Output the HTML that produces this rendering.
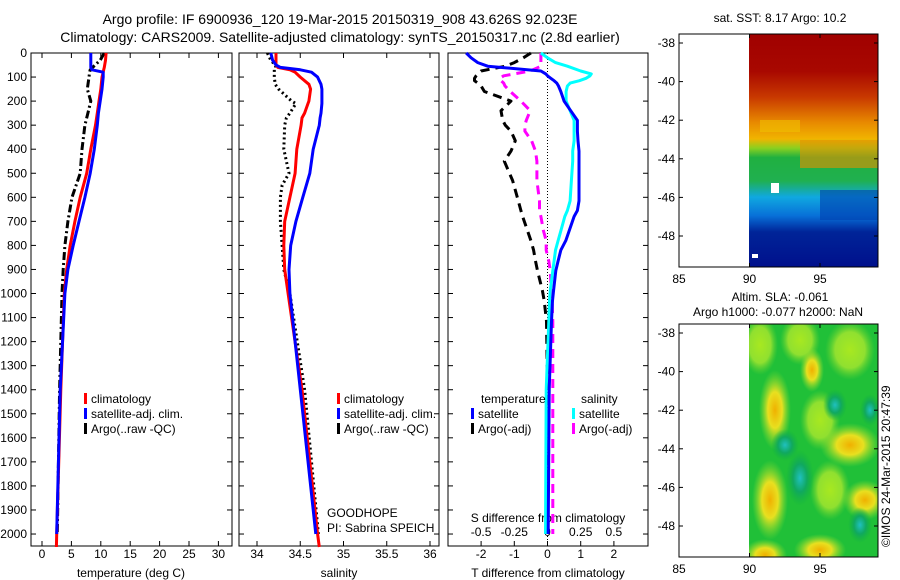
<!DOCTYPE html>
<html><head><meta charset="utf-8"><style>
body{margin:0;background:#fff;}
svg{display:block;font-family:"Liberation Sans",sans-serif;}
</style></head><body>
<svg id="fig" width="900" height="580" viewBox="0 0 900 580">
<defs>
<linearGradient id="sstg" x1="0" y1="0" x2="0" y2="1">
<stop offset="0" stop-color="#a00000"/><stop offset="0.16" stop-color="#a80800"/>
<stop offset="0.27" stop-color="#c83800"/><stop offset="0.38" stop-color="#e88a00"/>
<stop offset="0.45" stop-color="#f0b400"/><stop offset="0.49" stop-color="#8ad020"/>
<stop offset="0.53" stop-color="#20b040"/><stop offset="0.63" stop-color="#20b050"/>
<stop offset="0.70" stop-color="#10a8e0"/><stop offset="0.78" stop-color="#0870d8"/>
<stop offset="0.85" stop-color="#002498"/><stop offset="1" stop-color="#00108c"/>
</linearGradient>
<radialGradient id="yb"><stop offset="0" stop-color="#f0b000"/><stop offset="0.45" stop-color="#e8e020"/><stop offset="1" stop-color="#90e030" stop-opacity="0"/></radialGradient>
<radialGradient id="lg"><stop offset="0" stop-color="#a8e820"/><stop offset="0.6" stop-color="#90e030"/><stop offset="1" stop-color="#60d030" stop-opacity="0"/></radialGradient>
<radialGradient id="gb"><stop offset="0" stop-color="#20c0c0"/><stop offset="0.5" stop-color="#10a860"/><stop offset="1" stop-color="#10b040" stop-opacity="0"/></radialGradient>
</defs>
<g id="titles" font-size="14">
<text x="340" y="24" text-anchor="middle">Argo profile: IF 6900936_120 19-Mar-2015 20150319_908 43.626S 92.023E</text>
<text x="340" y="42" text-anchor="middle">Climatology: CARS2009. Satellite-adjusted climatology: synTS_20150317.nc (2.8d earlier)</text>
</g>
<g id="p1"></g><g id="p2"></g><g id="p3"></g>
<g id="maps">
<text x="780" y="22" text-anchor="middle" font-size="12">sat. SST: 8.17 Argo: 10.2</text>
<rect x="749" y="34" width="129" height="233" fill="url(#sstg)"/>
<g opacity="0.6">
<rect x="800" y="140" width="78" height="28" fill="#e89000"/>
<rect x="760" y="120" width="40" height="12" fill="#f0c000"/>
<rect x="820" y="190" width="58" height="30" fill="#0040b0"/>
</g>
<rect x="771" y="183" width="8" height="10" fill="#fff"/>
<rect x="752" y="254" width="6" height="4" fill="#fff"/>
<rect x="679" y="34" width="199" height="233" fill="none" stroke="#000"/>
<text x="780" y="301" text-anchor="middle" font-size="12">Altim. SLA: -0.061</text>
<text x="778" y="316" text-anchor="middle" font-size="12">Argo h1000: -0.077 h2000: NaN</text>
<svg x="749" y="324" width="129" height="233" viewBox="749 324 129 233">
<rect x="749" y="324" width="129" height="233" fill="#20c038"/>
<ellipse cx="760" cy="345" rx="18" ry="30" fill="url(#lg)"/>
<ellipse cx="800" cy="340" rx="20" ry="25" fill="url(#lg)"/>
<ellipse cx="850" cy="350" rx="25" ry="30" fill="url(#lg)"/>
<ellipse cx="775" cy="410" rx="16" ry="40" fill="url(#yb)"/>
<ellipse cx="820" cy="420" rx="20" ry="30" fill="url(#lg)"/>
<ellipse cx="850" cy="445" rx="30" ry="22" fill="url(#yb)"/>
<ellipse cx="770" cy="500" rx="18" ry="40" fill="url(#yb)"/>
<ellipse cx="830" cy="490" rx="20" ry="30" fill="url(#lg)"/>
<ellipse cx="865" cy="500" rx="22" ry="20" fill="url(#yb)"/>
<ellipse cx="765" cy="555" rx="22" ry="16" fill="url(#yb)"/>
<ellipse cx="820" cy="550" rx="26" ry="16" fill="url(#yb)"/>
<ellipse cx="812" cy="370" rx="12" ry="22" fill="url(#yb)"/>
<ellipse cx="800" cy="478" rx="14" ry="28" fill="url(#gb)"/>
<ellipse cx="785" cy="445" rx="14" ry="16" fill="url(#gb)"/>
<ellipse cx="835" cy="405" rx="12" ry="16" fill="url(#gb)"/>
<ellipse cx="870" cy="410" rx="10" ry="16" fill="url(#gb)"/>
<ellipse cx="860" cy="525" rx="12" ry="18" fill="url(#gb)"/>
</svg>
<rect x="679" y="324" width="199" height="233" fill="none" stroke="#000"/>
<text transform="translate(890,547) rotate(-90)" font-size="12">©IMOS 24-Mar-2015 20:47:39</text>
</g>
</svg>
<script>
const NS='http://www.w3.org/2000/svg';
function mk(p,tag,at){const e=document.createElementNS(NS,tag);for(const k in at)e.setAttribute(k,at[k]);p.appendChild(e);return e;}
const depthTicks=[0,100,200,300,400,500,600,700,800,900,1000,1100,1200,1300,1400,1500,1600,1700,1800,1900,2000];
function yD(d){return 53+d*0.2463*0.9765;}
// panel 1: temperature
const tDepth=[0,30,60,70,80,100,150,200,250,300,400,500,600,700,800,900,1000,1400,2000,2054];
const tClim=[10.9,10.8,10.6,10.5,10.4,10.2,10.0,9.7,9.4,9.1,8.3,7.6,6.5,5.6,4.8,4.2,3.8,3.2,2.5,2.45];
const tSat=[8.3,8.3,8.3,8.5,10.4,10.4,10.2,9.9,9.6,9.4,8.9,8.2,7.3,6.3,5.3,4.4,3.9,3.1,2.5];
const tArgo=[10.6,9.9,8.6,8.2,8.1,8.0,7.7,8.3,7.8,7.3,6.8,6.5,5.1,4.4,3.9,3.6,3.4,3.0,2.6];
const tTicks=[0,5,10,15,20,25,30];
// panel 2: salinity
const sDepth=[0,30,50,60,70,80,100,130,150,200,210,250,270,300,400,500,550,600,700,800,900,1000,1400,2000,2054];
const sClim=[34.22,34.22,34.22,34.24,34.38,34.44,34.50,34.60,34.62,34.60,34.59,34.55,34.52,34.51,34.46,34.44,34.41,34.38,34.32,34.31,34.32,34.36,34.52,34.70,34.72];
const sSat=[34.16,34.18,34.22,34.27,34.50,34.63,34.70,34.74,34.75,34.75,34.75,34.74,34.73,34.72,34.65,34.61,34.57,34.53,34.45,34.39,34.37,34.38,34.50,34.68];
const sArgo=[34.12,34.16,34.21,34.22,34.20,34.20,34.20,34.21,34.25,34.40,34.45,34.38,34.34,34.32,34.31,34.37,34.29,34.27,34.27,34.29,34.31,34.38,34.55,34.71];
const sTicks=[34,34.5,35,35.5,36];
// panel 3: differences
const dDepth=[0,20,40,55,75,87,95,105,115,125,137,160,200,240,280,300,325,365,408,450,530,615,655,680,740,780,820,865,905,990,1030,1115,1400,2000];
const dTsat=[-2.45,-2.3,-2.1,-1.8,-0.2,-0.05,0,0.1,0.2,0.28,0.33,0.4,0.5,0.7,0.9,0.9,0.9,0.92,0.95,0.95,0.95,0.95,0.9,0.8,0.65,0.55,0.4,0.32,0.25,0.18,0.15,0.12,0.05,0.02];
const dSsat=[-0.05,0.0,0.06,0.15,0.25,0.33,0.32,0.29,0.24,0.17,0.15,0.14,0.14,0.17,0.20,0.20,0.20,0.20,0.19,0.19,0.18,0.17,0.15,0.13,0.10,0.08,0.06,0.05,0.04,0.02,0.015,0.01,-0.01,-0.015];
const dTargo=[-0.5,-0.73,-1.0,-1.27,-2.0,-2.1,-2.15,-2.2,-2.2,-2.1,-2.0,-1.9,-1.1,-1.4,-1.35,-1.27,-1.1,-0.97,-1.1,-1.3,-1.05,-0.88,-0.8,-0.75,-0.6,-0.5,-0.42,-0.36,-0.3,-0.15,-0.1,-0.03,0.0,0.0];
const dSargo=[-0.05,-0.05,-0.05,-0.05,-0.13,-0.25,-0.33,-0.36,-0.35,-0.33,-0.32,-0.28,-0.2,-0.13,-0.16,-0.17,-0.17,-0.12,-0.09,-0.08,-0.08,-0.06,-0.06,-0.05,-0.03,-0.01,-0.01,0.01,0.02,0.03,0.035,0.04,0.04,0.04];
const dTTicks=[-2,-1,0,1,2];
const dSTicks=[-0.5,-0.25,0,0.25,0.5];
const dSLabels=['-0.5','-0.25','0','0.25','0.5'];

function frame(g,x0,x1,name,labels){
  const r=mk(g,'rect',{x:x0,y:53,width:x1-x0,height:493,fill:'none',stroke:'#000'});
  
  
  depthTicks.forEach(d=>{
    const y=yD(d);
    mk(g,'line',{x1:x0,x2:x0+5,y1:y,y2:y,stroke:'#000'});
    mk(g,'line',{x1:x1,x2:x1-5,y1:y,y2:y,stroke:'#000'});
    if(labels){const t=mk(g,'text',{x:x0-4,y:y+4,'text-anchor':'end','font-size':12});t.textContent=d;
      
      }
  });
}
function xticks(g,ticks,fx,labs,ylab,inside){
  ticks.forEach((v,i)=>{
    const x=fx(v);
    mk(g,'line',{x1:x,x2:x,y1:546,y2:541,stroke:'#000'});
    if(!inside) mk(g,'line',{x1:x,x2:x,y1:53,y2:58,stroke:'#000'});
    const t=mk(g,'text',{x:x,y:ylab,'text-anchor':'middle','font-size':12});t.textContent=labs?labs[i]:v;
    
    
  });
}
function line(g,vals,depths,fx,style,name){
  const pts=vals.map((v,i)=>fx(v).toFixed(1)+','+yD(depths[i]).toFixed(1)).join(' ');
  const p=mk(g,'polyline',Object.assign({points:pts,fill:'none','stroke-linejoin':'round'},style));
  
  
}
function txt(g,x,y,s,name,anchor){const t=mk(g,'text',{x:x,y:y,'font-size':12,'text-anchor':anchor||'start'});t.textContent=s;
  
  return t;}
function leg(g,x,y,color,s,name){mk(g,'rect',{x:x,y:y-10,width:3,height:11,fill:color});txt(g,x+7,y,s,name);}

const g1=document.getElementById('p1');
const fT=v=>42+v*5.88;
frame(g1,31,232,'temperature-axes',true);
xticks(g1,tTicks,fT,null,558,false);
txt(g1,131,577,'temperature (deg C)','x-axis-title-temperature','middle');
line(g1,tArgo,tDepth,fT,{stroke:'#000','stroke-width':3,'stroke-dasharray':'8 3 2 3'},'argo-temperature-line');
line(g1,tClim,tDepth,fT,{stroke:'#f00','stroke-width':3},'climatology-temperature-line');
line(g1,tSat,tDepth,fT,{stroke:'#00f','stroke-width':3},'satellite-temperature-line');
leg(g1,84,403,'#f00','climatology','legend-climatology');
leg(g1,84,418,'#00f','satellite-adj. clim.','legend-satellite');
leg(g1,84,433,'#000','Argo(..raw -QC)','legend-argo');

const g2=document.getElementById('p2');
const fS=v=>257+(v-34)*86.5;
frame(g2,239,439,'salinity-axes',false);
xticks(g2,sTicks,fS,null,558,false);
txt(g2,339,577,'salinity','x-axis-title-salinity','middle');
line(g2,sArgo,sDepth,fS,{stroke:'#000','stroke-width':3,'stroke-dasharray':'2 3'},'argo-salinity-line');
line(g2,sClim,sDepth,fS,{stroke:'#f00','stroke-width':3},'climatology-salinity-line');
line(g2,sSat,sDepth,fS,{stroke:'#00f','stroke-width':3},'satellite-salinity-line');
leg(g2,337,403,'#f00','climatology','legend-climatology-s');
leg(g2,337,418,'#00f','satellite-adj. clim.','legend-satellite-s');
leg(g2,337,433,'#000','Argo(..raw -QC)','legend-argo-s');
txt(g2,327,517,'GOODHOPE','project-label');
txt(g2,327,532,'PI: Sabrina SPEICH','pi-label');

const g3=document.getElementById('p3');
const fDT=v=>547.5+v*33.2;
const fDS=v=>547.5+v*132.8;
frame(g3,448,648,'difference-axes',false);
mk(g3,'line',{x1:fDT(0),x2:fDT(0),y1:53,y2:546,stroke:'#000','stroke-dasharray':'1 2'});
xticks(g3,dTTicks,fDT,null,558,true);
dSTicks.forEach((v,i)=>{txt(g3,fDS(v),536,dSLabels[i],'s-tick-label','middle');});
txt(g3,548,522,'S difference from climatology','s-axis-title','middle');
txt(g3,548,577,'T difference from climatology','t-axis-title','middle');
line(g3,dTargo,dDepth,fDT,{stroke:'#000','stroke-width':3,'stroke-dasharray':'9 6'},'argo-temp-diff-line');
line(g3,dSargo,dDepth,fDS,{stroke:'#f0f','stroke-width':3,'stroke-dasharray':'9 6'},'argo-sal-diff-line');
line(g3,dSsat,dDepth,fDS,{stroke:'#0ff','stroke-width':3},'satellite-sal-diff-line');
line(g3,dTsat,dDepth,fDT,{stroke:'#00f','stroke-width':3},'satellite-temp-diff-line');
txt(g3,481,403,'temperature','legend-temperature-header');
txt(g3,581,403,'salinity','legend-salinity-header');
leg(g3,471,418,'#00f','satellite','legend-t-satellite');
leg(g3,471,433,'#000','Argo(-adj)','legend-t-argo');
leg(g3,572,418,'#0ff','satellite','legend-s-satellite');
leg(g3,572,433,'#f0f','Argo(-adj)','legend-s-argo');

const mapLon=[85,90,95];
const mapLat=[-38,-40,-42,-44,-46,-48];
const gm=document.getElementById('maps');
[[34,267],[324,557]].forEach(([top,bot],k)=>{
  const fLon=v=>679+(v-85)*14.1;
  const fLat=v=>top+9+(-38-v)*19.3;
  mapLon.forEach(v=>{const x=fLon(v);mk(gm,'line',{x1:x,x2:x,y1:bot,y2:bot-4,stroke:'#000'});mk(gm,'line',{x1:x,x2:x,y1:top,y2:top+4,stroke:'#000'});
    txt(gm,x,bot+16,String(v),'map-lon-label','middle');});
  mapLat.forEach(v=>{const y=fLat(v);mk(gm,'line',{x1:679,x2:683,y1:y,y2:y,stroke:'#000'});mk(gm,'line',{x1:878,x2:874,y1:y,y2:y,stroke:'#000'});
    txt(gm,675,y+4,String(v),'map-lat-label','end');});
});
</script>
</body></html>
